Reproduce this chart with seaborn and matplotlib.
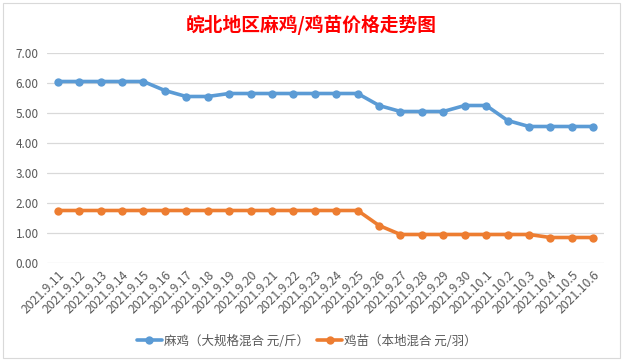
import pandas as pd
import seaborn as sns
from matplotlib import pyplot as plt
from matplotlib.patches import Rectangle

dates = [
    "2021.9.11", "2021.9.12", "2021.9.13", "2021.9.14", "2021.9.15",
    "2021.9.16", "2021.9.17", "2021.9.18", "2021.9.19", "2021.9.20",
    "2021.9.21", "2021.9.22", "2021.9.23", "2021.9.24", "2021.9.25",
    "2021.9.26", "2021.9.27", "2021.9.28", "2021.9.29", "2021.9.30",
    "2021.10.1", "2021.10.2", "2021.10.3", "2021.10.4", "2021.10.5",
    "2021.10.6",
]
maji = [6.05, 6.05, 6.05, 6.05, 6.05, 5.75, 5.55, 5.55, 5.65, 5.65,
        5.65, 5.65, 5.65, 5.65, 5.65, 5.25, 5.05, 5.05, 5.05, 5.25,
        5.25, 4.75, 4.55, 4.55, 4.55, 4.55]
jimiao = [1.75, 1.75, 1.75, 1.75, 1.75, 1.75, 1.75, 1.75, 1.75, 1.75,
          1.75, 1.75, 1.75, 1.75, 1.75, 1.25, 0.95, 0.95, 0.95, 0.95,
          0.95, 0.95, 0.95, 0.85, 0.85, 0.85]
series_names = ["麻鸡（大规格混合 元/斤）", "鸡苗（本地混合 元/羽）"]
colors = ["#5B9BD5", "#ED7D31"]
yticks = [0, 1, 2, 3, 4, 5, 6, 7]

sns.set_style("white")
plt.rcParams['font.family'] = ['Noto Sans CJK SC', 'DejaVu Sans']

fig = plt.figure(figsize=(6.23, 3.63), dpi=100)
ax = fig.add_axes([47 / 623, 1 - 263 / 363, 557 / 623, 210 / 363])

# chart frame
fig.patches.append(Rectangle((3 / 623, 1 - 358 / 363), 617 / 623, 355 / 363,
                             transform=fig.transFigure, fill=False,
                             edgecolor="#d9d9d9", linewidth=0.8))

x = list(range(len(dates)))
for vals, name, c in zip([maji, jimiao], series_names, colors):
    sns.lineplot(x=x, y=vals, ax=ax, color=c, linewidth=2.6, marker="o",
                 markersize=6, markeredgewidth=0, label=name, sort=False)

ax.set_xlim(-0.5, len(dates) - 0.5)
ax.set_ylim(0, 7)
ax.set_yticks(yticks)
ax.set_yticklabels([f"{v:.2f}" for v in yticks], color="#595959", fontsize=8.5)
ax.set_xticks(x)
ax.set_xticklabels(dates, rotation=45, ha="right", va="top",
                   rotation_mode="anchor", color="#595959", fontsize=8.8)
ax.tick_params(axis="both", length=0, pad=6)
ax.tick_params(axis="x", pad=4)
ax.grid(axis="y", color="#d9d9d9", linewidth=0.9)
ax.set_axisbelow(True)
for s in ax.spines.values():
    s.set_visible(False)
ax.set_xlabel("")
ax.set_ylabel("")

fig.text(311 / 623, 1 - 25 / 363, "皖北地区麻鸡/鸡苗价格走势图", color="#ff0000",
         fontsize=13.5, fontweight="bold", ha="center", va="center")

ax.legend(loc="center", bbox_to_anchor=(307 / 623, 1 - 341 / 363),
          bbox_transform=fig.transFigure, ncol=2, frameon=False,
          fontsize=9, labelcolor="#595959", handlelength=2.0,
          handletextpad=0.2, columnspacing=0.6)

fig.savefig("out.png", dpi=100)
